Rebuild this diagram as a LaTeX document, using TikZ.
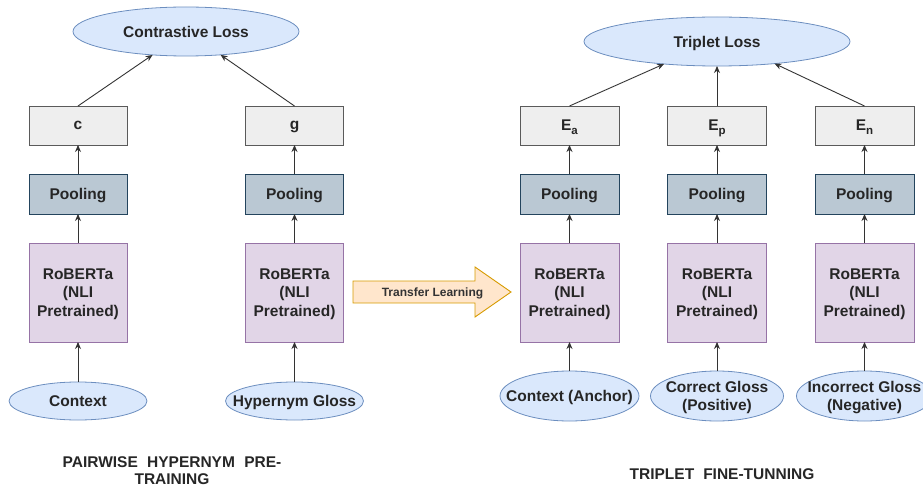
\documentclass[tikz,border=0pt]{standalone}
\usepackage{fontspec}
\setmainfont{Liberation Sans}
\usetikzlibrary{arrows.meta,shapes.geometric}
\definecolor{ellfill}{HTML}{DAE8FC}
\definecolor{elldraw}{HTML}{6C8EBF}
\definecolor{embfill}{HTML}{EEEEEE}
\definecolor{embdraw}{HTML}{5A5A5A}
\definecolor{poolfill}{HTML}{BAC8D3}
\definecolor{pooldraw}{HTML}{23445D}
\definecolor{robfill}{HTML}{E1D5E7}
\definecolor{robdraw}{HTML}{9673A6}
\definecolor{trfill}{HTML}{FFE6CC}
\definecolor{trdraw}{HTML}{D79B00}
\newcommand{\sbs}[1]{\raisebox{-0.22em}{\fontsize{11.5}{12}\selectfont #1}}
\tikzset{
  lbl/.style={font=\fontsize{15.5}{18.3}\selectfont\bfseries, text=black!85, inner sep=0pt, outer sep=0pt, align=center, text depth=0pt},
  embbox/.style={lbl, draw=embdraw, fill=embfill, line width=0.9pt, minimum width=98pt, minimum height=39pt},
  poolbox/.style={lbl, draw=pooldraw, fill=poolfill, line width=0.9pt, minimum width=98pt, minimum height=40pt},
  robbox/.style={lbl, draw=robdraw, fill=robfill, line width=0.9pt, minimum width=98pt, minimum height=99pt},
  ell/.style={ellipse, draw=elldraw, fill=ellfill, line width=0.8pt, inner sep=0pt, outer sep=0pt},
  conn/.style={draw=black!80, line width=0.9pt, -{Stealth[length=7pt,width=6pt]}},
  capt/.style={font=\fontsize{15.5}{17.5}\selectfont\bfseries, text=black!85, align=center, inner sep=0pt, text depth=0pt}
}
\begin{document}
\begin{tikzpicture}[x=1pt,y=-1pt]
\useasboundingbox (0,0) rectangle (923,489);
% ---------- left part ----------
\node[ell, minimum width=226pt, minimum height=49pt, label={[lbl]center:Contrastive Loss}] (cl) at (186,31.5) {};
\node[embbox] (c) at (78,125.5) {c};
\node[embbox] (g) at (294.5,125.5) {g};
\node[poolbox] (p1) at (78,194) {Pooling};
\node[poolbox] (p2) at (294.5,194) {Pooling};
\node[robbox] (r1) at (78,292.5) {RoBERTa\\(NLI\\Pretrained)};
\node[robbox] (r2) at (294.5,292.5) {RoBERTa\\(NLI\\Pretrained)};
\node[ell, minimum width=138pt, minimum height=38pt, label={[lbl]center:Context}] (ctx) at (78,401) {};
\node[ell, minimum width=138pt, minimum height=38pt, label={[lbl]center:Hypernym Gloss}] (hyp) at (294.5,401) {};
\draw[conn] (ctx.north) -- (r1.south);
\draw[conn] (hyp.north) -- (r2.south);
\draw[conn] (r1.north) -- (p1.south);
\draw[conn] (r2.north) -- (p2.south);
\draw[conn] (p1.north) -- (c.south);
\draw[conn] (p2.north) -- (g.south);
\draw[conn] (c.north) -- (cl.215);
\draw[conn] (g.north) -- (cl.326);
\node[capt] (cap1) at (172,470.5) {PAIRWISE\hspace{0.6em}HYPERNYM\hspace{0.6em}PRE-\\TRAINING};
% ---------- transfer arrow ----------
\draw[draw=trdraw, fill=trfill, line width=0.9pt, line join=miter]
  (353,281) -- (475,281) -- (475,267) -- (511,292) -- (475,317) -- (475,303) -- (353,303) -- cycle;
\node[font=\fontsize{12}{14}\selectfont\bfseries, text=black!80, inner sep=0pt, text depth=0pt] (tl) at (432.5,292.5) {Transfer Learning};
% ---------- right part ----------
\node[ell, minimum width=266pt, minimum height=49pt, label={[lbl]center:Triplet Loss}] (tlx) at (717,41.5) {};
\node[embbox, minimum width=99pt] (ea) at (569.5,125.5) {E\sbs{a}};
\node[embbox, minimum width=99pt] (ep) at (717,125.5) {E\sbs{p}};
\node[embbox, minimum width=99pt] (en) at (864.5,125.5) {E\sbs{n}};
\node[poolbox, minimum width=99pt] (q1) at (569.5,194) {Pooling};
\node[poolbox, minimum width=99pt] (q2) at (717,194) {Pooling};
\node[poolbox, minimum width=99pt] (q3) at (864.5,194) {Pooling};
\node[robbox, minimum width=99pt] (s1) at (569.5,292.5) {RoBERTa\\(NLI\\Pretrained)};
\node[robbox, minimum width=99pt] (s2) at (717,292.5) {RoBERTa\\(NLI\\Pretrained)};
\node[robbox, minimum width=99pt] (s3) at (864.5,292.5) {RoBERTa\\(NLI\\Pretrained)};
\node[ell, minimum width=139pt, minimum height=50pt, label={[lbl]center:{Context (Anchor)}}] (anc) at (569.5,396) {};
\node[ell, minimum width=133pt, minimum height=50pt, label={[lbl]center:{Correct Gloss\\(Positive)}}] (pos) at (717,396) {};
\node[ell, minimum width=136pt, minimum height=50pt, label={[lbl]center:{Incorrect Gloss\\(Negative)}}] (neg) at (864.5,396) {};
\draw[conn] (anc.north) -- (s1.south);
\draw[conn] (pos.north) -- (s2.south);
\draw[conn] (neg.north) -- (s3.south);
\draw[conn] (s1.north) -- (q1.south);
\draw[conn] (s2.north) -- (q2.south);
\draw[conn] (s3.north) -- (q3.south);
\draw[conn] (q1.north) -- (ea.south);
\draw[conn] (q2.north) -- (ep.south);
\draw[conn] (q3.north) -- (en.south);
\draw[conn] (ea.north) -- (tlx.203);
\draw[conn] (ep.north) -- (tlx.south);
\draw[conn] (en.north) -- (tlx.339);
\node[capt] (cap2) at (722,474.5) {TRIPLET\hspace{0.58em}FINE-TUNNING};
\end{tikzpicture}
\end{document}
